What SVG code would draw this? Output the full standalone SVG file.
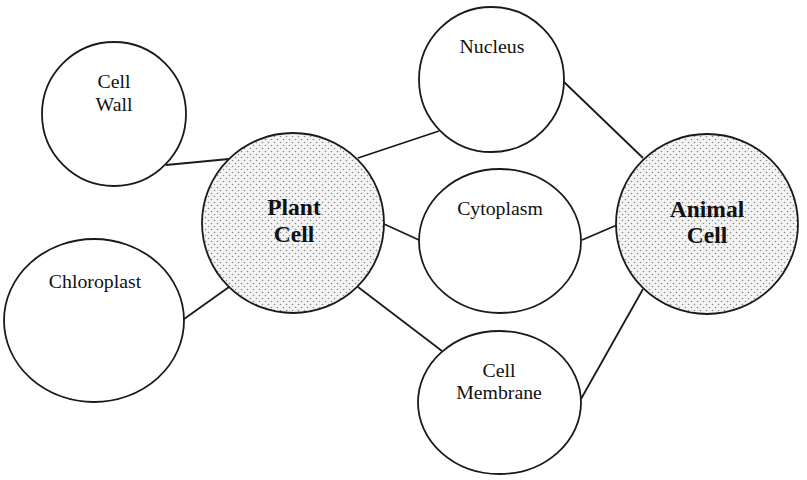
<svg xmlns="http://www.w3.org/2000/svg" width="807" height="480" viewBox="0 0 807 480">
<defs>
<pattern id="dots" width="6" height="6" patternUnits="userSpaceOnUse">
<rect width="6" height="6" fill="#f4f4f4"/>
<circle cx="1.5" cy="1.5" r="0.8" fill="#888"/>
<circle cx="4.5" cy="4.5" r="0.8" fill="#888"/>
</pattern>
<style>
.n{fill:#fff;stroke:#1a1a1a;stroke-width:1.8}
.s{fill:url(#dots);stroke:#1a1a1a;stroke-width:1.8}
.t{font-family:"Liberation Serif","Times New Roman",serif;font-size:19.8px;fill:#111;text-anchor:middle}
.b{font-family:"Liberation Serif","Times New Roman",serif;font-size:23.5px;font-weight:bold;fill:#111;text-anchor:middle}
.c{stroke:#1a1a1a;stroke-width:1.8;fill:none}
</style>
</defs>
<rect width="807" height="480" fill="#fff"/>
<g id="connectors">
<line class="c" x1="166" y1="165" x2="229" y2="159"/>
<line class="c" x1="184" y1="319" x2="229" y2="287"/>
<line class="c" x1="358" y1="158" x2="439" y2="131"/>
<line class="c" x1="384" y1="224" x2="419" y2="240"/>
<line class="c" x1="358" y1="287" x2="442" y2="351"/>
<line class="c" x1="564" y1="82" x2="643" y2="158"/>
<line class="c" x1="582" y1="240" x2="617" y2="225"/>
<line class="c" x1="643" y1="289" x2="581" y2="399"/>
</g>
<g id="cell-wall">
<circle class="n" cx="114" cy="114" r="72"/>
<text class="t" x="114" y="88">Cell</text>
<text class="t" x="114" y="111">Wall</text>
</g>
<g id="chloroplast">
<ellipse class="n" cx="94" cy="320.5" rx="90" ry="81.5"/>
<text class="t" x="95" y="288">Chloroplast</text>
</g>
<g id="plant-cell">
<ellipse class="s" cx="293" cy="223" rx="91" ry="90"/>
<text class="b" x="294" y="215">Plant</text>
<text class="b" x="294" y="242">Cell</text>
</g>
<g id="nucleus">
<circle class="n" cx="491.5" cy="79.5" r="72.5"/>
<text class="t" x="492" y="53">Nucleus</text>
</g>
<g id="cytoplasm">
<ellipse class="n" cx="500" cy="241" rx="81" ry="72"/>
<text class="t" x="500" y="215">Cytoplasm</text>
</g>
<g id="cell-membrane">
<ellipse class="n" cx="499.5" cy="402.5" rx="81.5" ry="71.5"/>
<text class="t" x="499" y="377">Cell</text>
<text class="t" x="499" y="399">Membrane</text>
</g>
<g id="animal-cell">
<ellipse class="s" cx="707" cy="224" rx="91" ry="90"/>
<text class="b" x="707" y="217">Animal</text>
<text class="b" x="707" y="243">Cell</text>
</g>
</svg>
